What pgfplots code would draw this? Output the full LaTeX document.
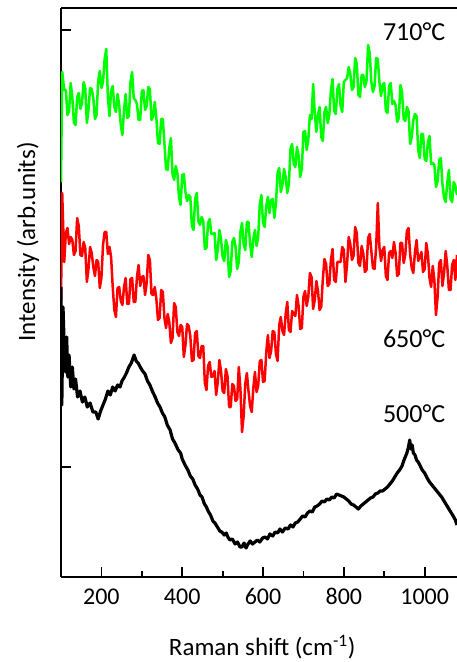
\documentclass[border=0pt]{standalone}
\usepackage{fontspec}
\setmainfont{Carlito}
\usepackage{pgfplots}
\pgfplotsset{compat=1.18}
\begin{document}
\begin{tikzpicture}
\useasboundingbox (-61pt,-85pt) rectangle (396pt,577pt);
\begin{axis}[
  scale only axis, width=396pt, height=569pt,
  xmin=100, xmax=1080, ymin=0, ymax=569,
  axis x line*=box, axis y line*=left,
  axis line style={-, line width=2.2pt},
  xtick={200,400,600,800,1000}, minor xtick={300,500,700,900},
  xtick pos=bottom, ytick pos=left,
  ytick={110,547}, yticklabels={},
  tick align=inside,
  major tick length=10pt, minor tick length=6pt,
  every tick/.style={line width=1.8pt, black},
  /pgf/number format/assume math mode=true,
  /pgf/number format/set thousands separator={},
  ticklabel style={font=\fontsize{24}{28}\selectfont},
  xticklabel style={yshift=-8pt},
  xlabel={Raman shift (cm\textsuperscript{-1})},
  ylabel={Intensity (arb.units)},
  label style={font=\fontsize{25}{30}\selectfont},
  xlabel style={at={(axis description cs:0.508,0)}, anchor=north, yshift=-55pt},
  ylabel style={at={(axis description cs:0,0.589)}, anchor=center, yshift=33pt},
  clip=true,
]
\addplot[color={rgb,1:red,0;green,1;blue,0}, line width=2.5pt, line join=round] coordinates {
(100,395)(103,505)(108,487)(112,487)(116,462)(120,466)(124,494)(128,480)(132,454)(136,452)(140,480)(144,484)(148,468)(152,474)(156,495)(160,489)(164,454)(168,467)(172,489)(176,488)(180,479)(184,458)(188,462)(192,496)(196,506)(200,489)(204,495)(208,518)(212,528)(216,480)(220,461)(224,486)(228,491)(232,470)(236,465)(240,483)(244,472)(248,452)(252,442)(256,467)(260,483)(264,459)(268,461)(272,495)(276,505)(280,479)(284,477)(288,473)(292,457)(296,457)(300,486)(304,487)(308,467)(312,471)(316,490)(320,488)(324,457)(328,461)(332,475)(336,459)(340,434)(344,433)(348,458)(352,458)(356,433)(360,408)(364,407)(368,429)(372,439)(376,403)(380,397)(384,411)(388,404)(392,380)(396,372)(400,402)(404,403)(408,385)(412,376)(416,382)(420,380)(424,351)(428,347)(432,378)(436,384)(440,356)(444,352)(448,360)(452,356)(456,328)(460,329)(464,354)(468,358)(472,343)(476,343)(480,344)(484,317)(488,327)(492,347)(496,338)(500,320)(504,316)(508,337)(512,331)(516,300)(520,306)(524,335)(528,339)(532,330)(536,308)(540,315)(544,345)(548,354)(552,333)(556,327)(560,355)(564,355)(568,333)(572,320)(576,338)(580,347)(584,331)(588,340)(592,373)(596,382)(600,354)(604,350)(608,371)(612,380)(616,364)(620,377)(624,378)(628,359)(632,374)(636,404)(640,409)(644,385)(648,392)(652,408)(656,400)(660,384)(664,393)(668,428)(672,433)(676,413)(680,410)(684,430)(688,421)(692,400)(696,408)(700,445)(704,446)(708,427)(712,437)(716,462)(720,458)(724,493)(728,464)(732,445)(736,462)(740,470)(744,440)(748,436)(752,465)(756,470)(760,454)(764,462)(768,486)(772,498)(776,466)(780,463)(784,488)(788,493)(792,471)(796,465)(800,495)(804,497)(808,499)(812,510)(816,503)(820,487)(824,490)(828,519)(832,513)(836,482)(840,480)(844,502)(848,502)(852,490)(856,496)(860,532)(864,524)(868,495)(872,485)(876,491)(880,519)(884,518)(888,495)(892,481)(896,492)(900,494)(904,466)(908,464)(912,491)(916,494)(920,473)(924,476)(928,472)(932,455)(936,459)(940,492)(944,485)(948,458)(952,456)(956,470)(960,466)(964,433)(968,440)(972,457)(976,463)(980,461)(984,427)(988,419)(992,443)(996,443)(1000,418)(1004,416)(1008,435)(1012,441)(1016,413)(1020,414)(1024,412)(1028,390)(1032,396)(1036,417)(1040,419)(1044,393)(1048,379)(1052,375)(1056,395)(1060,407)(1064,378)(1068,375)(1072,395)(1076,391)(1080,382)
};
\addplot[color=red, line width=2.5pt, line join=round] coordinates {
(100,277)(103,384)(108,315)(112,344)(116,349)(120,333)(124,340)(128,337)(132,322)(136,326)(140,359)(144,351)(148,322)(152,321)(156,335)(160,329)(164,295)(168,308)(172,330)(176,324)(180,310)(184,301)(188,317)(192,315)(196,289)(200,299)(204,332)(208,345)(212,345)(216,323)(220,330)(224,320)(228,290)(232,267)(236,260)(240,289)(244,290)(248,276)(252,272)(256,290)(260,299)(264,273)(268,273)(272,298)(276,299)(280,275)(284,275)(288,300)(292,312)(296,291)(300,300)(304,301)(308,282)(312,294)(316,322)(320,317)(324,283)(328,282)(332,290)(336,278)(340,257)(344,259)(348,287)(352,285)(356,259)(360,249)(364,263)(368,255)(372,234)(376,239)(380,274)(384,270)(388,245)(392,241)(396,252)(400,250)(404,220)(408,232)(412,253)(416,251)(420,241)(424,216)(428,217)(432,244)(436,246)(440,221)(444,219)(448,231)(452,231)(456,194)(460,187)(464,211)(468,215)(472,200)(476,201)(480,206)(484,182)(488,195)(492,217)(496,206)(500,186)(504,184)(508,208)(512,201)(516,170)(520,170)(524,193)(528,191)(532,176)(536,178)(540,210)(544,188)(548,145)(552,161)(556,193)(560,204)(564,186)(568,171)(572,165)(576,189)(580,205)(584,185)(588,191)(592,216)(596,217)(600,195)(604,196)(608,225)(612,242)(616,219)(620,226)(624,246)(628,245)(632,223)(636,216)(640,252)(644,260)(648,246)(652,242)(656,263)(660,275)(664,247)(668,245)(672,266)(676,263)(680,261)(684,282)(688,271)(692,248)(696,249)(700,280)(704,286)(708,271)(712,280)(716,304)(720,300)(724,268)(728,277)(732,296)(736,286)(740,267)(744,270)(748,298)(752,318)(756,313)(760,291)(764,293)(768,317)(772,328)(776,297)(780,295)(784,315)(788,315)(792,315)(796,330)(800,327)(804,295)(808,313)(812,340)(816,333)(820,317)(824,321)(828,350)(832,344)(836,314)(840,311)(844,331)(848,324)(852,305)(856,307)(860,339)(864,343)(868,326)(872,309)(876,308)(880,330)(884,374)(888,330)(892,316)(896,327)(900,330)(904,301)(908,297)(912,324)(916,326)(920,319)(924,335)(928,324)(932,301)(936,303)(940,334)(944,334)(948,314)(952,322)(956,346)(960,349)(964,323)(968,309)(972,304)(976,325)(980,337)(984,316)(988,320)(992,325)(996,305)(1000,308)(1004,334)(1008,323)(1012,299)(1016,290)(1020,311)(1024,297)(1028,262)(1032,280)(1036,314)(1040,317)(1044,291)(1048,304)(1052,326)(1056,311)(1060,287)(1064,287)(1068,312)(1072,317)(1076,297)(1080,322)
};
\addplot[color=black, line width=3.2pt, line join=round] coordinates {
(100,290)(102,172)(105,270)(108,230)(111,205)(114,240)(117,200)(120,222)(124,190)(128,210)(132,188)(136,198)(141,180)(147,186)(153,175)(159,180)(165,170)(172,174)(179,165)(186,165)(192,158)(198,166)(204,172)(210,178)(216,186)(222,182)(228,190)(234,186)(240,192)(246,190)(251,196)(257,200)(262,204)(268,210)(274,214)(281,222)(286,216)(291,214)(296,210)(302,206)(308,203)(314,196)(320,192)(327,185)(333,180)(339,174)(345,170)(351,164)(357,160)(363,152)(370,147)(376,138)(382,134)(390,127)(396,124)(400,118)(407,112)(414,107)(420,101)(426,98)(432,92)(438,88)(444,82)(449,80)(455,73)(460,70)(464,66)(470,62)(476,56)(481,54)(487,50)(493,46)(498,45)(504,42)(509,44)(513,40)(518,37)(524,38)(531,33)(537,35)(543,30)(548,30)(553,34)(558,29)(563,33)(568,36)(574,33)(580,35)(586,37)(592,35)(599,39)(605,40)(611,38)(617,43)(624,41)(630,45)(636,44)(642,48)(648,45)(655,49)(662,48)(668,52)(674,50)(680,54)(686,55)(692,58)(698,61)(704,60)(710,64)(716,66)(722,65)(728,70)(734,71)(740,73)(746,76)(752,75)(758,78)(764,77)(770,80)(776,79)(782,83)(788,82)(794,81)(800,80)(806,78)(812,76)(818,73)(824,72)(830,70)(836,68)(842,71)(848,73)(854,75)(860,77)(866,79)(872,80)(878,83)(884,84)(890,86)(896,86)(902,88)(908,90)(914,93)(920,96)(926,100)(932,104)(938,107)(944,111)(948,116)(952,120)(956,124)(960,130)(963,137)(966,128)(969,132)(972,124)(976,122)(980,117)(984,115)(988,112)(994,107)(1000,104)(1006,99)(1012,95)(1018,92)(1024,89)(1030,86)(1036,83)(1042,80)(1048,76)(1054,72)(1060,68)(1066,64)(1072,60)(1076,57)(1080,52)
};
\node[font=\fontsize{26}{30}\selectfont, anchor=center] at (axis cs:974,545) {710°C};
\node[font=\fontsize{26}{30}\selectfont, anchor=center] at (axis cs:974,238) {650°C};
\node[font=\fontsize{26}{30}\selectfont, anchor=center] at (axis cs:974,163) {500°C};
\end{axis}
\end{tikzpicture}
\end{document}
